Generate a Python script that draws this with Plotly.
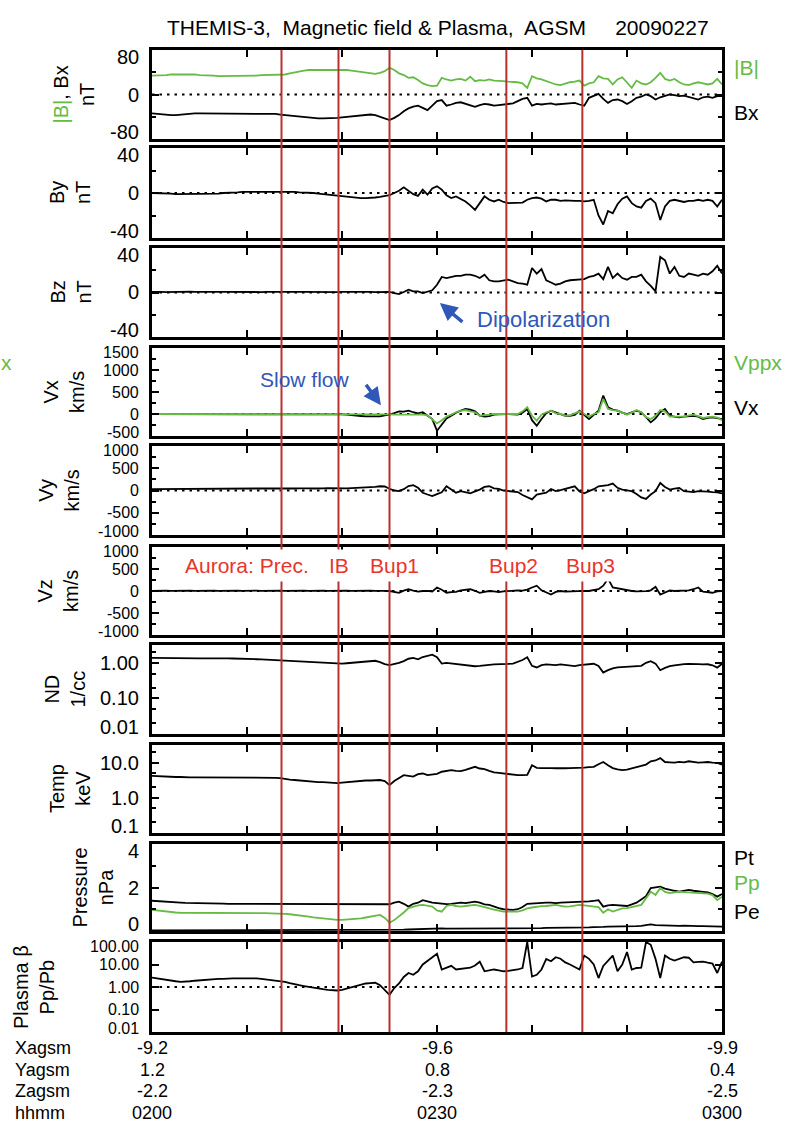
import math
import plotly.graph_objects as go

# ---------------- page geometry / style ----------------
W, H = 787, 1124
PLOT_L, PLOT_R = 152, 722
FONT = "Liberation Sans, Arial, Helvetica, sans-serif"
BLACK = "#000000"
GREEN = "#66bb44"
RED_LINE = "#b8312f"
RED_TEXT = "#e8352b"
BLUE = "#2f58b8"

# ---------------- data ----------------
# sample times, minutes after 02:00 UT (every 30 s)
T_MIN = [i * 0.5 for i in range(121)]

B_TOT = [34, 34, 35, 35, 36, 36, 37, 37, 36, 36,
         35, 35, 34, 34, 33, 33, 33, 33, 34, 34,
         34, 34, 34, 35, 35, 35, 35, 35, 36, 38,
         40, 42, 43, 44, 44, 44, 45, 45, 45, 45,
         45, 44, 43, 42, 41, 39, 38, 37, 39, 42,
         48, 44, 38, 35, 30, 31, 26, 20, 17, 15,
         16, 30, 27, 25, 27, 28, 25, 32, 24, 26,
         25, 27, 25, 25, 24, 23, 23, 22, 20, 12,
         33, 29, 27, 24, 22, 18, 17, 20, 22, 23,
         25, 16, 20, 22, 33, 29, 28, 18, 27, 31,
         22, 12, 25, 20, 18, 22, 30, 39, 28, 25,
         28, 22, 18, 17, 20, 22, 20, 18, 20, 28, 18]

BX = [-34, -35, -35, -36, -37, -37, -36, -36, -35, -34,
      -34, -34, -34, -34, -34, -34, -35, -35, -35, -35,
      -35, -35, -35, -35, -35, -35, -35, -36, -37, -38,
      -39, -40, -41, -42, -43, -43, -43, -43, -43, -42,
      -41, -40, -39, -38, -37, -36, -36, -37, -40, -44,
      -46, -42, -37, -30, -25, -22, -20, -24, -28, -20,
      -12, -10, -20, -18, -15, -14, -17, -20, -22, -19,
      -17, -18, -20, -19, -18, -17, -16, -12, -8, -6,
      -20, -17, -18, -17, -16, -18, -17, -16, -15, -15,
      -18, -20, -6, -3, 1, -8, -15, -10, -9, -12,
      -17, -12, -6, -4, 0, -3, -9, -5, -2, 0,
      -1, -3, -2, -4, -6, -9, -5, -4, -6, -3, -3]

BY = [0, 0, 0, -0.5, -0.5, -1, -1, -1, -1, -1,
      -1, -1, -1, -0.5, -0.5, 0, 0, 0.5, 0.5, 1,
      1, 1, 1, 1, 1, 1.5, 1.5, 1.5, 1, 1,
      1, 0.5, 0.5, 0, 0, -0.5, -1, -1, -1.5, -2,
      -2.5, -3, -3.5, -4, -4.5, -4.5, -4.5, -4, -3.5, -3,
      -2, 0, 2, 5, 2, -1, -2.5, 3, -1.5, 4,
      6, 3, -2, -4.5, -3, -5, -7.5, -11, -15, -9,
      -3, -6, -7.5, -6, -8, -9, -9, -9, -8.5, -6,
      -4.5, -4, -5, -7.5, -6, -6, -7, -6.5, -7, -7,
      -7, -7.5, -7, -6, -20, -28, -16, -18, -10, -5,
      -3, -9, -12, -13, -7, -5, -9, -24, -12, -7,
      -6, -7, -8, -7, -7, -6, -7, -6, -7, -12, -6]

BZ = [0.5, 0.8, 0.5, 0.3, 0.5, 0.6, 0.4, 0.5, 0.7, 0.5,
      0.4, 0.5, 0.6, 0.5, 0.3, 0.5, 0.6, 0.5, 0.4, 0.6,
      0.5, 0.7, 0.5, 0.4, 0.6, 0.5, 0.5, 0.3, 0.5, 0.6,
      0.4, 0.5, 0.6, 0.5, 0.4, 0.5, 0.3, 0.5, 0.6, 0.4,
      0.5, 0.6, 0.4, 0.5, 0.7, 0.5, 0.6, 0.4, 0.5, 0.5,
      0.5, -0.5, -1.5, 0.5, 2.5, 1, 1, -0.5, 0.5, 2,
      7, 14, 13, 14, 15, 15, 16, 16, 15, 13,
      16, 11, 10, 10, 11, 11.5, 10, 8.5, 8, 7,
      22, 17, 21, 11, 9, 7, 8, 10, 11, 11.5,
      12, 12, 14, 15, 17, 12, 23, 13, 17, 13,
      11.5, 14, 14, 16, 10, 6, 1, 32, 29, 17,
      23, 15, 14, 17, 16, 15, 17, 16, 19, 24, 17]

VX = [-5, -5, 0, -5, -5, -5, 0, -5, -5, -5,
      -5, 0, -5, -5, 0, -5, -5, 0, -5, -5,
      -5, 0, -5, -5, 0, 5, 0, -5, 0, -5,
      0, -5, 0, 5, 0, -5, 0, -5, 0, -5,
      -10, -15, -20, -30, -45, -55, -60, -60, -55, -30,
      -15, 20, 60, 55, 75, 40, 15, 40, -30, -115,
      -380, -230, -100, -40, 30, 75, 115, 100, 60, -40,
      -60, -50, -15, -10, 0, 0, -10, -15, 30, 115,
      -140, -270, -115, 20, 75, 40, 0, -40, -40, -20,
      75, -20, -115, -20, 75, 420, 155, 100, 75, 30,
      0, 40, 75, 40, -80, -190, -100, 40, 115, -40,
      -60, -75, -60, -50, -40, -60, -115, -90, -75, -95, -115]

VPPX = [0, 0, 5, 0, 0, -5, 0, 0, 5, 0,
        0, 0, -5, 0, 0, 5, 0, 0, 0, -5,
        0, 0, 5, 0, 0, 0, -5, 0, 0, 5,
        0, 0, 0, -5, 0, 0, 5, 0, 0, 0,
        -5, 0, 0, -5, -5, -10, -10, -10, -10, -10,
        -10, -15, -15, -10, -15, -10, -15, -15, -30, -115,
        -215, -140, -60, -15, 40, 70, 90, 60, 40, -40,
        -20, -15, 0, 0, 0, 0, 0, 0, 60, 155,
        -40, -150, -15, 40, 75, 15, 0, -40, -30, 20,
        60, 0, -60, 0, 40, 345, 115, 90, 75, 30,
        -15, 30, 90, 40, -75, -115, -40, 90, 60, -60,
        -60, -75, -60, -30, -15, -50, -90, -70, -60, -80, -140]

VY = [30, 30, 35, 30, 40, 35, 30, 35, 40, 35,
      40, 35, 40, 45, 40, 40, 45, 40, 45, 40,
      45, 40, 45, 50, 45, 40, 45, 50, 45, 50,
      45, 50, 55, 50, 45, 55, 50, 55, 50, 55,
      55, 50, 55, 60, 55, 60, 70, 80, 95, 90,
      40, 0, -15, 30, 100, 120, 60, -50, -90, -125,
      -80, -40, 95, 20, -50, -15, -40, -65, -20, 20,
      80, 95, 50, 35, 0, -15, -30, -35, -100, -155,
      -200, -90, -65, -50, 35, -15, 10, 35, 60, 95,
      -20, -65, -15, 30, 95, 110, 120, 155, 60, 20,
      0, -15, -80, -155, -190, -90, -15, 170, 80, 20,
      40, 60, -15, -20, -35, -15, -15, -25, -35, -40, -65]

VZ = [5, 10, 5, 10, 5, 10, 10, 5, 10, 5,
      10, 5, 10, 10, 5, 10, 5, 10, 10, 5,
      10, 5, 10, 5, 10, 10, 5, 10, 5, 10,
      5, 10, 10, 5, 10, 5, 10, 5, 10, 10,
      5, 10, 5, 10, 10, 5, 10, 5, 10, 5,
      0, -15, -40, 10, 40, 10, -15, 0, 5, -10,
      80, 30, -40, -25, -20, 15, 20, 40, 5, -40,
      -20, 0, -10, -25, -10, 0, 5, 15, 10, 30,
      80, 120, 15, -40, -80, -20, 0, -15, -10, 10,
      15, 5, 0, 20, 40, 120, 280, 80, 60, 40,
      10, 0, -10, -15, -5, 15, 95, -80, -30, 15,
      0, 5, 0, 15, 40, 80, -15, -30, -40, -10, 0]

ND = [1.37, 1.36, 1.35, 1.34, 1.34, 1.33, 1.33, 1.33, 1.32, 1.33,
      1.33, 1.33, 1.34, 1.34, 1.34, 1.33, 1.33, 1.32, 1.32, 1.31,
      1.30, 1.28, 1.26, 1.24, 1.22, 1.20, 1.17, 1.14, 1.12, 1.10,
      1.08, 1.07, 1.06, 1.04, 1.02, 1.00, 0.98, 0.96, 0.94, 0.94,
      0.95, 0.97, 1.00, 1.04, 1.08, 1.12, 1.15, 1.14, 1.05, 0.92,
      0.86, 0.92, 1.00, 1.12, 1.30, 1.37, 1.25, 1.45, 1.55, 1.69,
      1.43, 0.95, 1.00, 0.96, 0.94, 0.92, 0.88, 0.82, 0.80, 0.82,
      0.83, 0.88, 0.90, 0.90, 0.90, 0.93, 0.95, 1.05, 1.20, 1.43,
      0.82, 0.74, 0.86, 0.90, 0.88, 0.86, 0.90, 0.88, 0.83, 0.81,
      0.86, 0.90, 0.92, 0.94, 0.82, 0.53, 0.62, 0.70, 0.74, 0.76,
      0.76, 0.78, 0.80, 0.82, 1.00, 1.11, 0.95, 0.62, 0.72, 0.81,
      0.85, 0.90, 0.92, 0.93, 0.94, 0.92, 0.90, 0.91, 0.85, 0.73, 0.94]

TEMP = [4.2, 4.1, 4.0, 4.0, 3.9, 3.9, 3.9, 3.8, 3.8, 3.8,
        3.8, 3.8, 3.8, 3.7, 3.7, 3.7, 3.8, 3.8, 3.8, 3.8,
        3.8, 3.8, 3.8, 3.8, 3.8, 3.8, 3.7, 3.6, 3.4, 3.3,
        3.2, 3.1, 3.0, 3.0, 2.9, 2.8, 2.8, 2.7, 2.7, 2.6,
        2.7, 2.8, 2.8, 2.9, 3.0, 3.1, 3.1, 3.2, 3.2, 3.0,
        2.3, 3.0, 3.6, 4.4, 4.2, 4.0, 4.7, 4.9, 4.4, 4.5,
        4.8, 5.5, 5.8, 6.1, 5.8, 5.7, 6.2, 7.0, 7.6, 6.8,
        6.5, 5.8, 5.3, 5.1, 4.9, 4.8, 4.6, 4.4, 4.4, 4.5,
        8.4, 7.1, 7.0, 7.1, 7.0, 6.9, 6.8, 6.9, 7.0, 7.0,
        7.1, 7.2, 7.4, 7.6, 9.0, 10.4, 8.4, 7.0, 6.4, 6.1,
        6.3, 6.8, 7.2, 8.0, 8.8, 10.9, 11.5, 13.4, 10.4, 10.2,
        10.0, 10.5, 10.2, 10.9, 10.4, 10.0, 10.2, 10.4, 10.0, 9.8, 8.8]

P_TOT = [1.39, 1.37, 1.36, 1.34, 1.33, 1.31, 1.30, 1.29, 1.29, 1.28,
         1.28, 1.27, 1.27, 1.26, 1.26, 1.26, 1.25, 1.25, 1.25, 1.25,
         1.25, 1.25, 1.24, 1.24, 1.24, 1.24, 1.24, 1.24, 1.23, 1.23,
         1.23, 1.23, 1.23, 1.23, 1.23, 1.22, 1.22, 1.22, 1.23, 1.23,
         1.23, 1.23, 1.23, 1.22, 1.22, 1.22, 1.23, 1.23, 1.23, 1.22,
         1.23, 1.30, 1.35, 1.25, 1.12, 1.25, 1.30, 1.42, 1.35, 1.30,
         1.28, 1.25, 1.24, 1.25, 1.28, 1.30, 1.28, 1.32, 1.35, 1.30,
         1.22, 1.20, 1.12, 1.05, 1.00, 0.97, 0.97, 1.00, 1.10, 1.25,
         1.27, 1.27, 1.28, 1.30, 1.30, 1.28, 1.30, 1.31, 1.30, 1.32,
         1.35, 1.33, 1.36, 1.39, 1.42, 1.12, 1.18, 1.20, 1.18, 1.15,
         1.15, 1.22, 1.30, 1.45, 1.60, 1.97, 2.00, 2.04, 1.95, 1.89,
         1.85, 1.81, 1.85, 1.89, 1.85, 1.81, 1.80, 1.77, 1.70, 1.58, 1.70]

P_ION = [0.97, 0.94, 0.91, 0.88, 0.86, 0.85, 0.84, 0.84, 0.84, 0.84,
         0.84, 0.84, 0.85, 0.85, 0.85, 0.85, 0.84, 0.84, 0.84, 0.83,
         0.83, 0.83, 0.82, 0.82, 0.82, 0.81, 0.81, 0.80, 0.79, 0.77,
         0.75, 0.72, 0.69, 0.66, 0.63, 0.60, 0.57, 0.54, 0.52, 0.51,
         0.51, 0.52, 0.54, 0.56, 0.58, 0.62, 0.66, 0.70, 0.74, 0.60,
         0.38, 0.50, 0.66, 0.85, 1.05, 1.12, 1.18, 1.20, 1.15, 1.12,
         0.95, 0.89, 1.15, 1.20, 1.15, 1.12, 1.15, 1.18, 1.20, 1.15,
         1.08, 1.04, 0.98, 0.92, 0.89, 0.89, 0.88, 0.89, 0.95, 1.04,
         1.08, 1.12, 1.14, 1.15, 1.18, 1.20, 1.16, 1.12, 1.13, 1.16,
         1.20, 1.18, 1.15, 1.12, 1.10, 0.84, 1.00, 0.89, 0.95, 1.04,
         1.05, 1.10, 1.12, 1.20, 1.50, 1.81, 1.66, 1.97, 1.80, 1.74,
         1.78, 1.81, 1.79, 1.77, 1.76, 1.75, 1.74, 1.72, 1.65, 1.42, 1.58]

P_ELEC = [0.03, 0.03, 0.03, 0.03, 0.03, 0.03, 0.03, 0.03, 0.03, 0.03,
          0.03, 0.03, 0.03, 0.03, 0.03, 0.03, 0.03, 0.03, 0.03, 0.03,
          0.03, 0.03, 0.03, 0.03, 0.03, 0.03, 0.03, 0.03, 0.03, 0.03,
          0.03, 0.03, 0.03, 0.03, 0.03, 0.03, 0.03, 0.03, 0.03, 0.03,
          0.03, 0.03, 0.03, 0.04, 0.04, 0.04, 0.04, 0.04, 0.04, 0.04,
          0.04, 0.05, 0.05, 0.06, 0.07, 0.08, 0.08, 0.09, 0.10, 0.10,
          0.12, 0.12, 0.11, 0.11, 0.12, 0.12, 0.13, 0.12, 0.12, 0.12,
          0.12, 0.11, 0.11, 0.11, 0.10, 0.10, 0.10, 0.11, 0.11, 0.12,
          0.13, 0.13, 0.13, 0.14, 0.14, 0.14, 0.15, 0.15, 0.15, 0.16,
          0.16, 0.16, 0.17, 0.18, 0.20, 0.19, 0.20, 0.20, 0.19, 0.20,
          0.21, 0.21, 0.22, 0.24, 0.26, 0.30, 0.27, 0.26, 0.25, 0.24,
          0.24, 0.24, 0.25, 0.23, 0.23, 0.22, 0.22, 0.21, 0.21, 0.20, 0.20]

BETA = [2.6, 2.4, 2.2, 2.0, 1.9, 1.8, 1.7, 1.7, 1.8, 1.9,
        2.0, 2.1, 2.2, 2.2, 2.3, 2.3, 2.4, 2.4, 2.4, 2.4,
        2.5, 2.4, 2.4, 2.3, 2.2, 2.1, 2.0, 1.8, 1.7, 1.5,
        1.3, 1.2, 1.1, 1.0, 0.9, 0.85, 0.8, 0.75, 0.72, 0.70,
        0.75, 0.85, 1.0, 1.15, 1.3, 1.43, 1.5, 1.54, 1.2, 0.7,
        0.45, 0.9, 1.43, 2.8, 4.2, 3.5, 5.0, 10, 14, 21,
        30, 6.0, 7.5, 8.7, 6.0, 6.5, 7.0, 7.2, 9, 13.3,
        5.0, 5.5, 6.0, 5.5, 5.0, 5.2, 5.5, 6.0, 7.0, 100,
        2.9, 3.5, 6, 17.8, 14, 21, 18, 12.4, 10, 8,
        6.0, 25, 17.8, 10, 2.5, 8.7, 15, 25, 5.0, 10,
        36, 6, 7, 7.2, 100, 75, 17.8, 2.5, 25, 18,
        15, 18, 21, 20, 12.4, 13, 13.3, 12, 11, 4.2, 13.3]

# substorm / aurora event times (minutes after 02:00)
EVENT_TIMES = [13.63, 19.63, 25.0, 37.3, 45.3]
EVENT_LABELS = ["Aurora: Prec.", "IB", "Bup1", "Bup2", "Bup3"]
EVENT_LABEL_PX = [247, 339, 394, 513, 590]

# x axis ticks and orbit table
X_TICKS = [0, 10, 20, 30, 40, 50, 60]
ORBIT_TIMES = [0, 30, 60]
ORBIT_ROWS = ["Xagsm", "Yagsm", "Zagsm", "hhmm"]
X_AGSM = ["-9.2", "-9.6", "-9.9"]
Y_AGSM = ["1.2", "0.8", "0.4"]
Z_AGSM = ["-2.2", "-2.3", "-2.5"]
HHMM = ["0200", "0230", "0300"]
ORBIT_ROW_PX = [1048, 1069.5, 1091, 1112.5]

# ---------------- panel definitions ----------------
PANELS = [
    dict(top=50, bottom=139, type="linear", range=[-80, 80],
         ticks=[-80, 0, 80], labels=["-80", "0", "80"], minor=[-40, 40], fs=20, nudge=7,
         title="<span style='color:%s'>|B|</span>, Bx<br>nT" % GREEN, tx=74,
         series=[("|B|", B_TOT, GREEN), ("Bx", BX, BLACK)], ref=0),
    dict(top=148, bottom=238, type="linear", range=[-40, 40],
         ticks=[-40, 0, 40], labels=["-40", "0", "40"], minor=[-20, 20], fs=20, nudge=7,
         title="By<br>nT", tx=70, series=[("By", BY, BLACK)], ref=0),
    dict(top=248, bottom=337, type="linear", range=[-40, 40],
         ticks=[-40, 0, 40], labels=["-40", "0", "40"], minor=[-20, 20], fs=20, nudge=7,
         title="Bz<br>nT", tx=70, series=[("Bz", BZ, BLACK)], ref=0),
    dict(top=348, bottom=436, type="linear", range=[-500, 1500],
         ticks=[-500, 0, 500, 1000, 1500], labels=["-500", "0", "500", "1000", "1500"],
         minor=[-250, 250, 750, 1250], fs=16, nudge=4,
         title="Vx<br>km/s", tx=64, series=[("Vx", VX, BLACK), ("Vppx", VPPX, GREEN)], ref=0),
    dict(top=446, bottom=535, type="linear", range=[-1000, 1000],
         ticks=[-1000, -500, 0, 500, 1000], labels=["-1000", "-500", "0", "500", "1000"],
         minor=[-750, -250, 250, 750], fs=16, nudge=4,
         title="Vy<br>km/s", tx=58, series=[("Vy", VY, BLACK)], ref=0),
    dict(top=547, bottom=635, type="linear", range=[-1000, 1000],
         ticks=[-1000, -500, 0, 500, 1000], labels=["-1000", "-500", "0", "500", "1000"],
         minor=[-750, -250, 250, 750], fs=16, nudge=4,
         title="Vz<br>km/s", tx=58, series=[("Vz", VZ, BLACK)], ref=0),
    dict(top=645, bottom=734, type="log", range=[-2, 0.5],
         ticks=[0.01, 0.1, 1], labels=["0.01", "0.10", "1.00"],
         minor=[0.02, 0.05, 0.2, 0.5, 2], fs=20, nudge=7,
         title="ND<br>1/cc", tx=64, series=[("ND", ND, BLACK)], ref=None),
    dict(top=745, bottom=833, type="log", range=[-1, 1.5],
         ticks=[0.1, 1, 10], labels=["0.1", "1.0", "10.0"],
         minor=[0.2, 0.5, 2, 5, 20], fs=20, nudge=7,
         title="Temp<br>keV", tx=70, series=[("Temp", TEMP, BLACK)], ref=None),
    dict(top=844, bottom=931, type="linear", range=[0, 4],
         ticks=[0, 2, 4], labels=["0", "2", "4"], minor=[1, 3], fs=20, nudge=7,
         title="Pressure<br>nPa", tx=92,
         series=[("Pt", P_TOT, BLACK), ("Pe", P_ELEC, BLACK), ("Pp", P_ION, GREEN)], ref=None),
    dict(top=942, bottom=1032, type="log", range=[-2, 2],
         ticks=[0.01, 0.1, 1, 10, 100], labels=["0.01", "0.10", "1.00", "10.00", "100.00"],
         minor=[], fs=16, nudge=4,
         title="Plasma β<br>Pp/Pb", tx=34, series=[("beta", BETA, BLACK)], ref=1),
]

RIGHT_LABELS = [("|B|", 67, GREEN), ("Bx", 112, BLACK), ("Vppx", 362, GREEN), ("Vx", 408, BLACK),
                ("Pt", 857, BLACK), ("Pp", 882, GREEN), ("Pe", 911, BLACK)]

# ---------------- build figure ----------------
fig = go.Figure()
annotations = []
shapes = []
layout_axes = {}
N = len(PANELS)

for k, p in enumerate(PANELS, start=1):
    sfx = "" if k == 1 else str(k)
    xa, ya = "x" + sfx, "y" + sfx
    ydom = [1 - p["bottom"] / H, 1 - p["top"] / H]
    layout_axes["xaxis" + sfx] = dict(
        domain=[PLOT_L / W, PLOT_R / W], range=[0, 60], anchor=ya,
        showline=True, linewidth=2.5, linecolor=BLACK, mirror="ticks",
        ticks="inside", ticklen=7, tickwidth=2, tickcolor=BLACK,
        tickvals=X_TICKS, showticklabels=False,
        showgrid=False, zeroline=False, fixedrange=True)
    layout_axes["yaxis" + sfx] = dict(
        domain=ydom, range=p["range"], type=p["type"], anchor=xa,
        showline=True, linewidth=2.5, linecolor=BLACK, mirror="ticks",
        ticks="inside", ticklen=7, tickwidth=2, tickcolor=BLACK,
        tickvals=p["ticks"], showticklabels=False,
        minor=dict(tickvals=p["minor"], ticks="inside", ticklen=4, tickwidth=1.5, tickcolor=BLACK),
        showgrid=False, zeroline=False, fixedrange=True)

    # dotted reference level
    if p["ref"] is not None:
        fig.add_trace(go.Scatter(
            x=[T_MIN[0], T_MIN[-1]], y=[p["ref"], p["ref"]], mode="lines",
            line=dict(color=BLACK, width=2.2, dash="2.5px,5px"),
            xaxis=xa, yaxis=ya, showlegend=False, hoverinfo="skip"))
    for name, vals, color in p["series"]:
        fig.add_trace(go.Scatter(
            x=T_MIN, y=vals, mode="lines", name=name,
            line=dict(color=color, width=1.8),
            xaxis=xa, yaxis=ya, showlegend=False))

    # tick labels (extreme ones nudged inside the box, as in the original)
    lo, hi = p["range"]
    for val, lab in zip(p["ticks"], p["labels"]):
        yv = math.log10(val) if p["type"] == "log" else val
        shift = 0
        if abs(yv - hi) < 1e-9:
            shift = -p["nudge"]
        elif abs(yv - lo) < 1e-9:
            shift = p["nudge"]
        annotations.append(dict(
            x=140 / W, xref="paper", xanchor="right", y=yv, yref=ya, yanchor="middle",
            yshift=shift, text=lab, showarrow=False, borderpad=0,
            font=dict(family=FONT, size=p["fs"], color=BLACK)))

    # rotated axis title
    annotations.append(dict(
        x=p["tx"] / W, xref="paper", xanchor="center",
        y=1 - (p["top"] + p["bottom"]) / 2 / H, yref="paper", yanchor="middle",
        text=p["title"], textangle=-90, showarrow=False,
        font=dict(family=FONT, size=20, color=BLACK)))

# event lines spanning all panels
for tv in EVENT_TIMES:
    shapes.append(dict(type="line", xref="x", yref="paper", x0=tv, x1=tv,
                       y0=1 - PANELS[-1]["bottom"] / H, y1=1 - PANELS[0]["top"] / H,
                       line=dict(color=RED_LINE, width=2), layer="above"))

# event labels with white background in Vz panel
for lab, px in zip(EVENT_LABELS, EVENT_LABEL_PX):
    annotations.append(dict(
        x=px / W, xref="paper", xanchor="center", y=1 - 549 / H, yref="paper", yanchor="top",
        text=lab, showarrow=False, bgcolor="white", borderpad=4,
        font=dict(family=FONT, size=21, color=RED_TEXT)))

# right-hand series labels
for lab, py, col in RIGHT_LABELS:
    annotations.append(dict(
        x=732 / W, xref="paper", xanchor="left", y=1 - py / H, yref="paper", yanchor="middle",
        text=lab, showarrow=False, font=dict(family=FONT, size=21, color=col)))

# clipped label fragment at far left
annotations.append(dict(x=0, xref="paper", xanchor="left", y=1 - 362 / H, yref="paper",
                        yanchor="middle", text="x", showarrow=False, borderpad=0,
                        font=dict(family=FONT, size=21, color=GREEN)))

# blue comments with arrows
annotations.append(dict(x=475 / W, xref="paper", xanchor="left", y=1 - 320 / H, yref="paper",
                        yanchor="middle", text="Dipolarization", showarrow=False,
                        font=dict(family=FONT, size=22, color=BLUE)))
annotations.append(dict(x=30.3, xref="x3", y=-9.5, yref="y3", text="", showarrow=True,
                        ax=24, ay=20, arrowhead=2, arrowsize=1, arrowwidth=3.5, arrowcolor=BLUE))
annotations.append(dict(x=258 / W, xref="paper", xanchor="left", y=1 - 379 / H, yref="paper",
                        yanchor="middle", text="Slow flow", showarrow=False,
                        font=dict(family=FONT, size=21, color=BLUE)))
annotations.append(dict(x=24.1, xref="x4", y=200, yref="y4", text="", showarrow=True,
                        ax=-16, ay=-22, arrowhead=2, arrowsize=1, arrowwidth=3.5, arrowcolor=BLUE))

# orbit table (row names + values placed on the time axis)
ORBIT_VALUES = [X_AGSM, Y_AGSM, Z_AGSM, HHMM]
last_x = "x" + str(N)
TABLE_FS = 18
for row_name, row_vals, py in zip(ORBIT_ROWS, ORBIT_VALUES, ORBIT_ROW_PX):
    annotations.append(dict(x=14 / W, xref="paper", xanchor="left", y=1 - py / H, yref="paper",
                            yanchor="middle", text=row_name, showarrow=False, borderpad=0,
                            font=dict(family=FONT, size=TABLE_FS, color=BLACK)))
    for tv, txt in zip(ORBIT_TIMES, row_vals):
        annotations.append(dict(x=tv, xref=last_x, xanchor="center", y=1 - py / H, yref="paper",
                                yanchor="middle", text=txt, showarrow=False, borderpad=0,
                                font=dict(family=FONT, size=TABLE_FS, color=BLACK)))

# title
annotations.append(dict(x=438 / W, xref="paper", xanchor="center", y=1 - 27 / H, yref="paper",
                        yanchor="middle",
                        text="THEMIS-3,\u00a0 Magnetic field & Plasma,\u00a0 AGSM\u00a0\u00a0\u00a0\u00a0 20090227",
                        showarrow=False, font=dict(family=FONT, size=21, color=BLACK)))

fig.update_layout(
    width=W, height=H, margin=dict(l=0, r=0, t=0, b=0),
    paper_bgcolor="white", plot_bgcolor="white",
    showlegend=False, annotations=annotations, shapes=shapes,
    font=dict(family=FONT, size=20, color=BLACK),
    **layout_axes)

fig.write_html("out.html")
